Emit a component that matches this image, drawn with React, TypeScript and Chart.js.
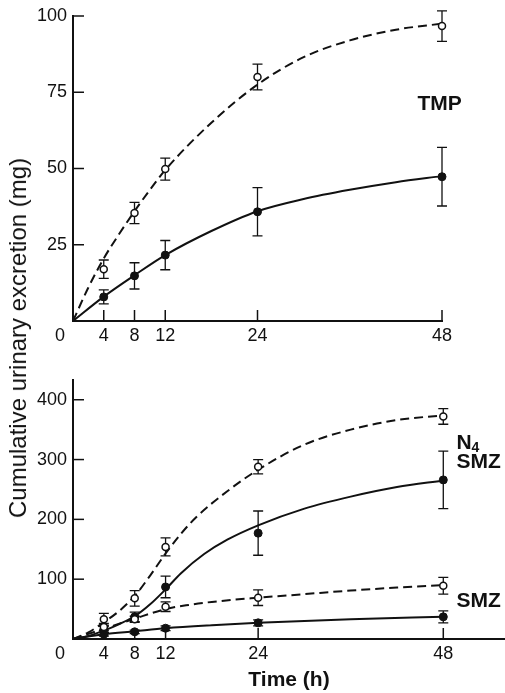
import React, { useEffect, useRef } from 'react';
import { Chart, registerables } from 'chart.js';
Chart.register(...registerables);

const FONT = "'Liberation Sans', Arial, Helvetica, sans-serif";
const INK = '#111';

// ---- axes ----
const X_TICKS = [0, 4, 8, 12, 24, 48];
const TMP_Y_TICKS = [25, 50, 75, 100];
const SMZ_Y_TICKS = [100, 200, 300, 400];

// ---- sampling times (h) ----
const HOURS = [4, 8, 12, 24, 48];

// ---- TMP panel ----
const TMP_OPEN = [17, 35.4, 49.8, 80, 96.7];
const TMP_OPEN_ERR = [3, 3.5, 3.6, 4.2, 5];
const TMP_FILLED = [7.9, 14.8, 21.6, 35.8, 47.3];
const TMP_FILLED_ERR = [2.3, 4.3, 4.8, 7.9, 9.6];

const TMP_OPEN_FIT_T = [0, 2, 4, 6, 8, 10, 12, 18, 24, 30, 36, 42, 48];
const TMP_OPEN_FIT = [0, 11, 20.5, 28.5, 36, 43, 49.5, 65, 77.5, 86.5, 92, 95.5, 97.5];
const TMP_FILLED_FIT_T = [0, 4, 8, 12, 18, 24, 30, 36, 42, 48];
const TMP_FILLED_FIT = [0, 8, 15, 21.6, 29.5, 36, 40, 43, 45.5, 47.5];

// ---- SMZ panel: N4-SMZ ----
const N4_OPEN = [33, 68, 154, 288, 372];
const N4_OPEN_ERR = [10, 13, 15, 12, 13];
const N4_FILLED = [16, 37, 87, 177, 266];
const N4_FILLED_ERR = [5, 8, 18, 37, 48];

const N4_OPEN_FIT_T = [0, 2, 4, 6, 8, 10, 12, 14, 16, 20, 24, 30, 36, 42, 48];
const N4_OPEN_FIT = [0, 11, 28, 47, 72, 106, 143, 176, 204, 247, 283, 325, 350, 366, 374];
const N4_FILLED_FIT_T = [0, 2, 4, 6, 8, 10, 12, 14, 17, 20, 24, 30, 36, 42, 48];
const N4_FILLED_FIT = [0, 5, 14, 25, 38, 58, 83, 110, 142, 166, 190, 218, 238, 254, 265];

// ---- SMZ panel: SMZ ----
const SMZ_OPEN = [20, 33, 54, 69, 89];
const SMZ_OPEN_ERR = [6, 5, 8, 13, 14];
const SMZ_FILLED = [8, 12, 18, 27, 37];
const SMZ_FILLED_ERR = [3, 3, 4, 5, 10];

const SMZ_OPEN_FIT_T = [0, 4, 8, 12, 15, 18, 24, 30, 36, 42, 48];
const SMZ_OPEN_FIT = [0, 17, 34, 50, 57, 62, 69, 75, 81, 86, 90];
const SMZ_FILLED_FIT_T = [0, 4, 8, 12, 18, 24, 36, 48];
const SMZ_FILLED_FIT = [0, 8, 13, 18, 23, 27, 33, 37];

// ---- annotations (data coordinates) ----
const TMP_LABELS = [{ text: 'TMP', sub: '', t: 47.7, v: 71.5, align: 'center' }];
const SMZ_LABELS = [
  { text: 'N', sub: '4', t: 49.7, v: 330, align: 'left' },
  { text: 'SMZ', sub: '', t: 49.7, v: 299, align: 'left' },
  { text: 'SMZ', sub: '', t: 49.7, v: 66, align: 'left' },
];

function pointsDataset(ts: number[], vs: number[], errs: number[], open: boolean) {
  return {
    data: ts.map((t, i) => ({ x: t, y: vs[i] })),
    errors: errs,
    showLine: false,
    pointRadius: open ? 3.5 : 4,
    pointHoverRadius: open ? 3.5 : 4,
    pointBackgroundColor: open ? '#fff' : INK,
    pointBorderColor: INK,
    pointBorderWidth: open ? 1.5 : 1,
    order: 0,
    clip: false,
  };
}

function curveDataset(ts: number[], vs: number[], dashed: boolean) {
  return {
    data: ts.map((t, i) => ({ x: t, y: vs[i] })),
    showLine: true,
    pointRadius: 0,
    pointHoverRadius: 0,
    borderColor: INK,
    borderWidth: 2,
    borderDash: dashed ? [9, 5] : [],
    cubicInterpolationMode: 'monotone',
    fill: false,
    order: 1,
    clip: false,
  };
}

function makeDecor(xTicks: number[], yTicks: number[], labels: any[]) {
  return {
    id: 'decor',
    beforeDatasetsDraw(chart: any) {
      const { ctx, chartArea: ca, scales } = chart;
      const xs = scales.x;
      const ys = scales.y;
      ctx.save();
      ctx.strokeStyle = INK;
      ctx.lineWidth = 1.5;
      yTicks.forEach((v) => {
        const py = ys.getPixelForValue(v);
        ctx.beginPath();
        ctx.moveTo(ca.left, py);
        ctx.lineTo(ca.left + 11, py);
        ctx.stroke();
      });
      xTicks.filter((v) => v !== 0).forEach((v) => {
        const px = xs.getPixelForValue(v);
        ctx.beginPath();
        ctx.moveTo(px, ca.bottom);
        ctx.lineTo(px, ca.bottom - 11);
        ctx.stroke();
      });
      // error bars
      ctx.lineWidth = 1.3;
      chart.data.datasets.forEach((ds: any) => {
        if (!ds.errors) return;
        ds.data.forEach((p: any, i: number) => {
          const e = ds.errors[i];
          const px = xs.getPixelForValue(p.x);
          const y1 = ys.getPixelForValue(p.y - e);
          const y2 = ys.getPixelForValue(p.y + e);
          ctx.beginPath();
          ctx.moveTo(px, y1);
          ctx.lineTo(px, y2);
          ctx.moveTo(px - 5, y1);
          ctx.lineTo(px + 5, y1);
          ctx.moveTo(px - 5, y2);
          ctx.lineTo(px + 5, y2);
          ctx.stroke();
        });
      });
      ctx.restore();
    },
    afterDraw(chart: any) {
      const { ctx, chartArea: ca, scales } = chart;
      const xs = scales.x;
      const ys = scales.y;
      ctx.save();
      ctx.fillStyle = INK;
      // origin label
      ctx.font = `18px ${FONT}`;
      ctx.textAlign = 'center';
      ctx.textBaseline = 'middle';
      ctx.fillText('0', xs.getPixelForValue(0) - 13, ca.bottom + 4 + 10.8);
      // series labels
      labels.forEach((l) => {
        const px = xs.getPixelForValue(l.t);
        const py = ys.getPixelForValue(l.v);
        ctx.font = `bold 21px ${FONT}`;
        ctx.textBaseline = 'alphabetic';
        const w = ctx.measureText(l.text).width;
        let sw = 0;
        if (l.sub) {
          ctx.font = `bold 14px ${FONT}`;
          sw = ctx.measureText(l.sub).width;
        }
        const total = w + sw;
        const left = l.align === 'center' ? px - total / 2 : px;
        const base = py + (0.716 * 21) / 2;
        ctx.font = `bold 21px ${FONT}`;
        ctx.textAlign = 'left';
        ctx.fillText(l.text, left, base);
        if (l.sub) {
          ctx.font = `bold 14px ${FONT}`;
          ctx.fillText(l.sub, left + w, base + 3);
        }
      });
      ctx.restore();
    },
  };
}

function buildChart(
  canvas: HTMLCanvasElement,
  datasets: any[],
  cfg: { xMax: number; yMax: number; yTicks: number[]; padTop: number; padRight: number; xHeight: number; xTitle: string; labels: any[] }
) {
  return new Chart(canvas, {
    type: 'scatter',
    data: { datasets },
    options: {
      animation: false,
      responsive: false,
      events: [],
      layout: { autoPadding: false, padding: { top: cfg.padTop, right: cfg.padRight, left: 0, bottom: 0 } },
      plugins: { legend: { display: false }, tooltip: { enabled: false } },
      scales: {
        x: {
          type: 'linear',
          min: 0,
          max: cfg.xMax,
          afterBuildTicks: (s: any) => {
            s.ticks = X_TICKS.map((v) => ({ value: v }));
          },
          afterFit: (s: any) => {
            s.height = cfg.xHeight;
            s.paddingLeft = 0;
            s.paddingRight = 0;
          },
          grid: { display: false, drawTicks: false },
          border: { display: true, color: INK, width: 2 },
          ticks: {
            color: INK,
            font: { family: FONT, size: 18 },
            padding: 4,
            maxRotation: 0,
            autoSkip: false,
            callback: (v: any) => (v === 0 ? '' : String(v)),
          },
          title: {
            display: !!cfg.xTitle,
            text: cfg.xTitle,
            color: INK,
            font: { family: FONT, size: 21, weight: 'bold' },
            padding: { top: 0, bottom: 0 },
          },
        },
        y: {
          type: 'linear',
          min: 0,
          max: cfg.yMax,
          afterBuildTicks: (s: any) => {
            s.ticks = cfg.yTicks.map((v) => ({ value: v }));
          },
          afterFit: (s: any) => {
            s.width = 73;
            s.paddingTop = 0;
            s.paddingBottom = 0;
          },
          grid: { display: false, drawTicks: false },
          border: { display: true, color: INK, width: 2 },
          ticks: {
            color: INK,
            font: { family: FONT, size: 18 },
            padding: 6,
            autoSkip: false,
          },
        },
      },
    } as any,
    plugins: [makeDecor(X_TICKS, cfg.yTicks, cfg.labels)],
  });
}

export default function App() {
  const topRef = useRef<HTMLCanvasElement>(null);
  const botRef = useRef<HTMLCanvasElement>(null);

  useEffect(() => {
    document.body.style.margin = '0';
    document.body.style.background = '#fff';
    const top = buildChart(
      topRef.current!,
      [
        pointsDataset(HOURS, TMP_OPEN, TMP_OPEN_ERR, true),
        pointsDataset(HOURS, TMP_FILLED, TMP_FILLED_ERR, false),
        curveDataset(TMP_OPEN_FIT_T, TMP_OPEN_FIT, true),
        curveDataset(TMP_FILLED_FIT_T, TMP_FILLED_FIT, false),
      ],
      { xMax: 48, yMax: 100, yTicks: TMP_Y_TICKS, padTop: 16, padRight: 63, xHeight: 24, xTitle: '', labels: TMP_LABELS }
    );
    const bot = buildChart(
      botRef.current!,
      [
        pointsDataset(HOURS, N4_OPEN, N4_OPEN_ERR, true),
        pointsDataset(HOURS, SMZ_OPEN, SMZ_OPEN_ERR, true),
        pointsDataset(HOURS, N4_FILLED, N4_FILLED_ERR, false),
        pointsDataset(HOURS, SMZ_FILLED, SMZ_FILLED_ERR, false),
        curveDataset(N4_OPEN_FIT_T, N4_OPEN_FIT, true),
        curveDataset(N4_FILLED_FIT_T, N4_FILLED_FIT, false),
        curveDataset(SMZ_OPEN_FIT_T, SMZ_OPEN_FIT, true),
        curveDataset(SMZ_FILLED_FIT_T, SMZ_FILLED_FIT, false),
      ],
      { xMax: 56, yMax: 433, yTicks: SMZ_Y_TICKS, padTop: 35, padRight: 0, xHeight: 54, xTitle: 'Time (h)', labels: SMZ_LABELS }
    );
    return () => {
      top.destroy();
      bot.destroy();
    };
  }, []);

  return (
    <div style={{ position: 'relative', width: 505, height: 693, background: '#fff', overflow: 'hidden' }}>
      <canvas ref={topRef} width={505} height={345} style={{ position: 'absolute', left: 0, top: 0 }} />
      <canvas ref={botRef} width={505} height={348} style={{ position: 'absolute', left: 0, top: 345 }} />
      <div
        style={{
          position: 'absolute',
          left: 18,
          top: 338,
          transform: 'translate(-50%, -50%) rotate(-90deg)',
          whiteSpace: 'nowrap',
          fontFamily: FONT,
          fontSize: 24,
          lineHeight: 1,
          color: INK,
        }}
      >
        Cumulative urinary excretion (mg)
      </div>
    </div>
  );
}
